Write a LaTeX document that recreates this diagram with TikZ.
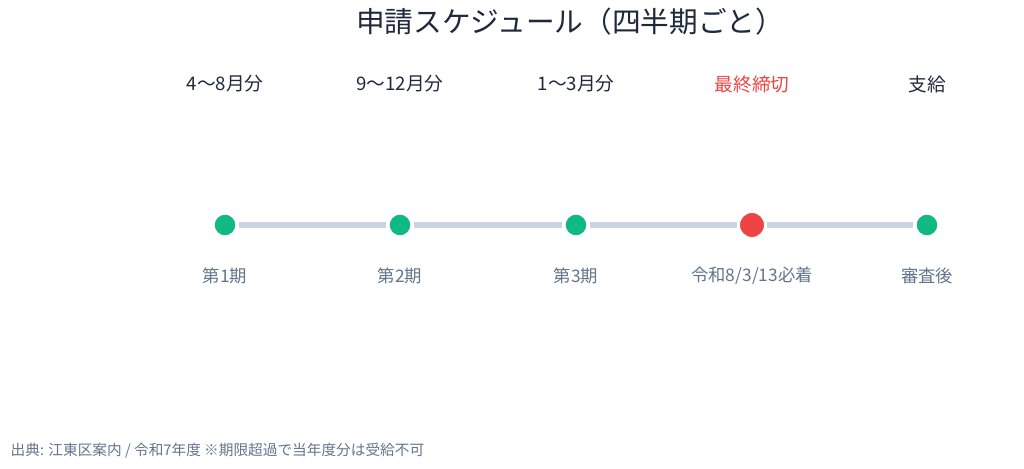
\documentclass[tikz,border=0pt]{standalone}
\usepackage{fontspec}
\setmainfont{Noto Sans CJK JP}
\definecolor{navy}{HTML}{1E293B}
\definecolor{slate}{HTML}{64748B}
\definecolor{track}{HTML}{CBD5E1}
\definecolor{okgreen}{HTML}{10B981}
\definecolor{alertred}{HTML}{EF4444}
\begin{document}
\begin{tikzpicture}[
        x=0.75pt, y=-0.75pt,
        dot/.style={circle, fill=okgreen, draw=white, line width=2.4pt, minimum size=18pt, inner sep=0pt},
        enddot/.style={dot, fill=alertred, minimum size=20.5pt},
        toplabel/.style={font=\fontsize{14}{16}\selectfont, text=navy},
        sublabel/.style={font=\fontsize{13}{15}\selectfont, text=slate},
        link/.style={track, line width=3.8pt}
    ]
        \useasboundingbox (0,0) rectangle (1024,468);
        \node[font=\fontsize{21.5}{24}\selectfont, text=navy] (title) at (570,22) {申請スケジュール（四半期ごと）};
        % Quarterly milestones
        \foreach \i/\x/\top/\sub in {1/225/4〜8月分/第1期, 2/400/9〜12月分/第2期, 3/576/1〜3月分/第3期, 5/927/支給/審査後}
        {
            \node[dot] (d\i) at (\x,225) {};
            \node[toplabel] (t\i) at (\x,84) {\top};
            \node[sublabel] (s\i) at (\x,276) {\sub};
        }
        \node[enddot] (d4) at (752,225) {};
        \node[toplabel, text=alertred] (t4) at (752,84) {最終締切};
        \node[sublabel] (s4) at (752,276) {令和8/3/13必着};
        \foreach \a/\b in {1/2,2/3,3/4,4/5}
            \draw[link] (d\a) -- (d\b);
        \node[sublabel, font=\fontsize{11}{13}\selectfont, anchor=west] (src) at (6,451) {出典: 江東区案内 / 令和7年度 ※期限超過で当年度分は受給不可};
\end{tikzpicture}
\end{document}
